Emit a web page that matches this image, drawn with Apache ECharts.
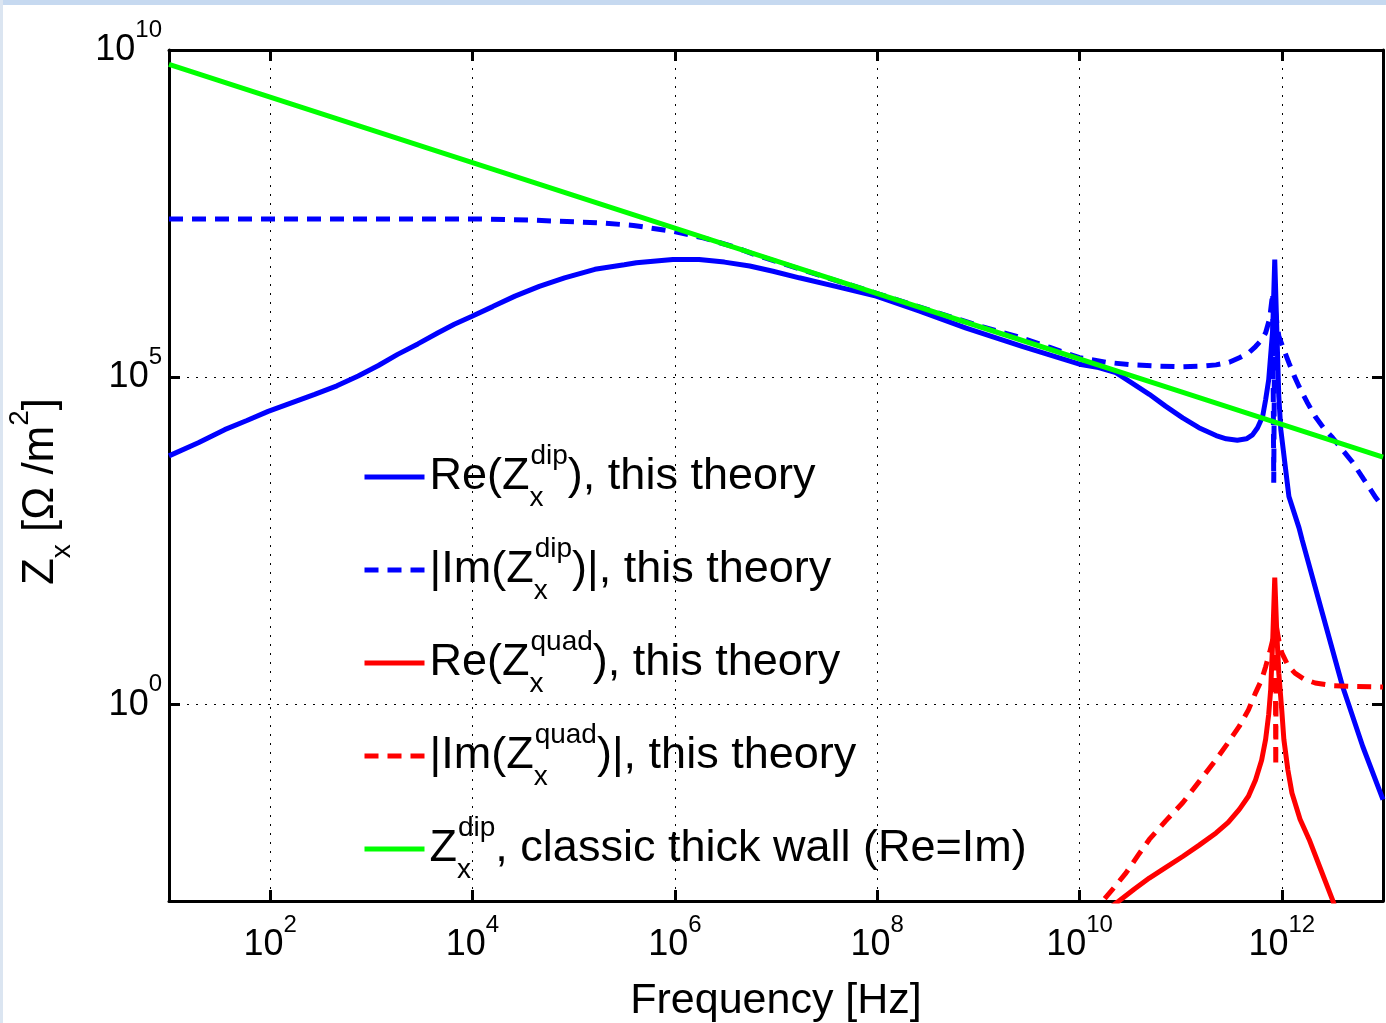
<!DOCTYPE html>
<html>
<head>
<meta charset="utf-8">
<script src="https://cdn.jsdelivr.net/npm/echarts@6/dist/echarts.min.js"></script>
<style>
  html, body { margin: 0; padding: 0; background: #fff; }
  #chart { width: 1386px; height: 1023px; }
</style>
</head>
<body>
<div id="chart"></div>
<script>
// values as log10(frequency [Hz]) and log10(Z [Ohm/m^2])
const reDipF = [1.00, 1.29, 1.55, 1.77, 1.98, 2.21, 2.44, 2.66, 2.87, 3.07, 3.26, 3.46, 3.66, 3.82, 3.99, 4.20, 4.42, 4.66, 4.91, 5.21,
  5.50, 5.62, 5.98, 6.24, 6.49, 6.74, 6.97, 7.23, 7.59, 7.99, 8.42, 8.88, 9.44, 10.00, 10.19, 10.36, 10.52, 10.69, 10.85, 11.02,
  11.18, 11.35, 11.45, 11.56, 11.65, 11.71, 11.76, 11.81, 11.84, 11.87, 11.91, 11.93, 11.96, 11.97, 11.99, 12.07, 12.17, 12.20,
  12.40, 12.60, 12.80, 13.00];
const reDipZ = [3.80, 4.00, 4.20, 4.34, 4.48, 4.61, 4.74, 4.87, 5.02, 5.18, 5.35, 5.51, 5.68, 5.81, 5.93, 6.08, 6.24, 6.39, 6.52, 6.65,
  6.72, 6.75, 6.80, 6.80, 6.76, 6.70, 6.62, 6.52, 6.39, 6.24, 6.01, 5.75, 5.47, 5.20, 5.15, 5.07, 4.91, 4.74, 4.56, 4.38,
  4.23, 4.11, 4.06, 4.04, 4.06, 4.12, 4.23, 4.40, 4.66, 4.96, 5.73, 6.80, 5.22, 4.71, 4.20, 3.18, 2.70, 2.52,
  1.40, 0.28, -0.64, -1.45];

const imDipF = [1.00, 2.00, 3.00, 4.09, 4.60, 5.26, 5.59, 5.98, 6.28, 6.57, 6.80, 7.00, 8.00, 9.00, 9.37, 9.70, 10.00, 10.26, 10.52,
  10.80, 11.02, 11.20, 11.35, 11.48, 11.58, 11.67, 11.74, 11.80, 11.84, 11.88, 11.91, 11.92, 11.93, 11.95, 11.97, 12.02, 12.07,
  12.12, 12.17, 12.25, 12.33, 12.41, 12.50, 12.60, 12.70, 12.81, 12.93, 13.00];
const imDipZ = [7.42, 7.42, 7.42, 7.42, 7.40, 7.36, 7.32, 7.23, 7.13, 7.00, 6.87, 6.77, 6.28, 5.79, 5.63, 5.46, 5.30, 5.23, 5.19,
  5.17, 5.16, 5.17, 5.19, 5.23, 5.30, 5.37, 5.47, 5.57, 5.68, 5.90, 6.29, 3.39, 6.10, 5.85, 5.63, 5.42, 5.22,
  5.03, 4.86, 4.62, 4.40, 4.23, 4.08, 3.89, 3.70, 3.44, 3.16, 3.02];

const reQuadF = [10.20, 10.39, 10.54, 10.69, 10.85, 11.02, 11.18, 11.35, 11.47, 11.58, 11.67, 11.74, 11.80, 11.84, 11.87, 11.89,
  11.91, 11.93, 11.95, 11.97, 12.00, 12.02, 12.06, 12.10, 12.18, 12.27, 12.38, 12.50, 12.55];
const reQuadZ = [-3.22, -3.00, -2.82, -2.65, -2.49, -2.32, -2.15, -1.96, -1.80, -1.60, -1.40, -1.15, -0.85, -0.53, -0.15, 0.23,
  0.99, 1.94, 1.10, 0.48, -0.10, -0.53, -1.00, -1.35, -1.75, -2.06, -2.50, -2.98, -3.20];

const imQuadF = [10.10, 10.23, 10.35, 10.46, 10.58, 10.69, 10.85, 11.02, 11.18, 11.35, 11.47, 11.58, 11.67, 11.74, 11.80, 11.84,
  11.88, 11.91, 11.935, 11.94, 11.945, 11.97, 12.00, 12.06, 12.13, 12.22, 12.33, 12.50, 12.66, 13.00];
const imQuadZ = [-3.23, -3.00, -2.78, -2.57, -2.30, -2.06, -1.78, -1.50, -1.18, -0.84, -0.58, -0.33, -0.08, 0.18, 0.38, 0.58,
  0.80, 0.99, 1.30, -0.94, 1.20, 0.98, 0.79, 0.60, 0.48, 0.39, 0.33, 0.29, 0.28, 0.27];

const classicF = [1, 3, 5, 7, 9, 11, 13];
const classicZ = [9.78, 8.78, 7.78, 6.78, 5.78, 4.78, 3.78];

const xTicks = [1e2, 1e4, 1e6, 1e8, 1e10, 1e12];
const yTicks = [1e0, 1e5, 1e10];

const seriesNames = ['reDip', 'imDip', 'reQuad', 'imQuad', 'classic'];
const legendLabels = {
  reDip: '{t|Re(Z}{sub|x}{sup|dip}{t|), this theory}',
  imDip: '{t||Im(Z}{sub|x}{sup|dip}{t|)|, this theory}',
  reQuad: '{t|Re(Z}{sub|x}{sup|quad}{t|), this theory}',
  imQuad: '{t||Im(Z}{sub|x}{sup|quad}{t|)|, this theory}',
  classic: '{t|Z}{sub|x}{sup|dip}{t|, classic thick wall (Re=Im)}'
};

const FONT = "'Liberation Sans', Arial, Helvetica, sans-serif";

const toPairs = (f, z) => f.map((e, i) => [Math.pow(10, e), Math.pow(10, z[i])]);

const tickRich = {
  b: { fontFamily: FONT, fontSize: 36, lineHeight: 64, color: '#000' },
  s: { fontFamily: FONT, fontSize: 24, lineHeight: 26, verticalAlign: 'top', color: '#000' }
};
const powLabel = v => '{b|10}{s|' + Math.round(Math.log10(v)) + '}';

const gridLine = { show: true, lineStyle: { color: '#000', width: 1, type: [2, 7] } };
const frameLine = { show: true, onZero: false, lineStyle: { color: '#000', width: 3 } };
const tick = (vals) => ({ show: true, inside: true, length: 11, customValues: vals, lineStyle: { color: '#000', width: 3 } });
const DASH = [14, 9];

const chart = echarts.init(document.getElementById('chart'), null, { renderer: 'canvas' });

const option = {
  backgroundColor: '#fff',
  animation: false,
  graphic: [
    { type: 'rect', shape: { x: 0, y: 0, width: 1386, height: 5 }, style: { fill: '#c6d9f0' }, silent: true },
    { type: 'rect', shape: { x: 0, y: 0, width: 3, height: 1023 }, style: { fill: '#dbe5f1' }, silent: true }
  ],
  grid: { left: 169, right: 3, top: 50, bottom: 122, containLabel: false, outerBoundsMode: 'none' },
  legend: {
    orient: 'vertical',
    left: 362,
    top: 442,
    padding: 0,
    itemWidth: 60,
    itemHeight: 14,
    itemGap: 23,
    selectedMode: false,
    data: seriesNames,
    itemStyle: { opacity: 0 },
    lineStyle: { width: 5 },
    formatter: name => legendLabels[name],
    textStyle: {
      rich: {
        t: { fontFamily: FONT, fontSize: 45, lineHeight: 70, color: '#000' },
        sup: { fontFamily: FONT, fontSize: 28, lineHeight: 30, verticalAlign: 'top', color: '#000' },
        sub: { fontFamily: FONT, fontSize: 28, lineHeight: 20, verticalAlign: 'bottom', width: 1, color: '#000' }
      }
    }
  },
  xAxis: [
    {
      type: 'log', logBase: 10, min: 10, max: 1e13,
      position: 'bottom',
      name: 'Frequency [Hz]', nameLocation: 'middle', nameGap: 76,
      nameTextStyle: { fontFamily: FONT, fontSize: 43, color: '#000', lineHeight: 48 },
      axisLine: frameLine,
      axisTick: tick(xTicks),
      minorTick: { show: false },
      axisLabel: { show: true, margin: 12, customValues: xTicks, formatter: powLabel, rich: tickRich },
      splitLine: gridLine
    },
    {
      type: 'log', logBase: 10, min: 10, max: 1e13,
      position: 'top',
      axisLine: frameLine,
      axisTick: tick(xTicks),
      axisLabel: { show: false },
      splitLine: { show: false }
    }
  ],
  yAxis: [
    {
      type: 'log', logBase: 10, min: 1e-3, max: 1e10,
      position: 'left',
      name: '{b|Z}{sub|x}{b| [Ω /m}{sup|2}{b|]}', nameLocation: 'middle', nameGap: 93,
      nameTextStyle: {
        padding: [0, 32, 0, 0],
        rich: {
          b: { fontFamily: FONT, fontSize: 44, lineHeight: 70, color: '#000' },
          sup: { fontFamily: FONT, fontSize: 28, lineHeight: 30, verticalAlign: 'top', color: '#000' },
          sub: { fontFamily: FONT, fontSize: 28, lineHeight: 20, verticalAlign: 'bottom', color: '#000' }
        }
      },
      axisLine: frameLine,
      axisTick: tick(yTicks),
      minorTick: { show: false },
      axisLabel: { show: true, margin: 7, customValues: yTicks, formatter: powLabel, rich: tickRich },
      splitLine: gridLine
    },
    {
      type: 'log', logBase: 10, min: 1e-3, max: 1e10,
      position: 'right',
      axisLine: frameLine,
      axisTick: tick(yTicks),
      axisLabel: { show: false },
      splitLine: { show: false }
    }
  ],
  series: [
    { name: 'reDip', type: 'line', data: toPairs(reDipF, reDipZ), symbol: 'none', clip: true,
      lineStyle: { color: '#0000ff', width: 5 }, itemStyle: { color: '#0000ff' } },
    { name: 'imDip', type: 'line', data: toPairs(imDipF, imDipZ), symbol: 'none', clip: true,
      lineStyle: { color: '#0000ff', width: 5, type: DASH }, itemStyle: { color: '#0000ff' } },
    { name: 'reQuad', type: 'line', data: toPairs(reQuadF, reQuadZ), symbol: 'none', clip: true,
      lineStyle: { color: '#ff0000', width: 5 }, itemStyle: { color: '#ff0000' } },
    { name: 'imQuad', type: 'line', data: toPairs(imQuadF, imQuadZ), symbol: 'none', clip: true,
      lineStyle: { color: '#ff0000', width: 5, type: DASH }, itemStyle: { color: '#ff0000' } },
    { name: 'classic', type: 'line', data: toPairs(classicF, classicZ), symbol: 'none', clip: true,
      lineStyle: { color: '#00ff00', width: 5 }, itemStyle: { color: '#00ff00' } }
  ]
};

chart.setOption(option);
</script>
</body>
</html>
